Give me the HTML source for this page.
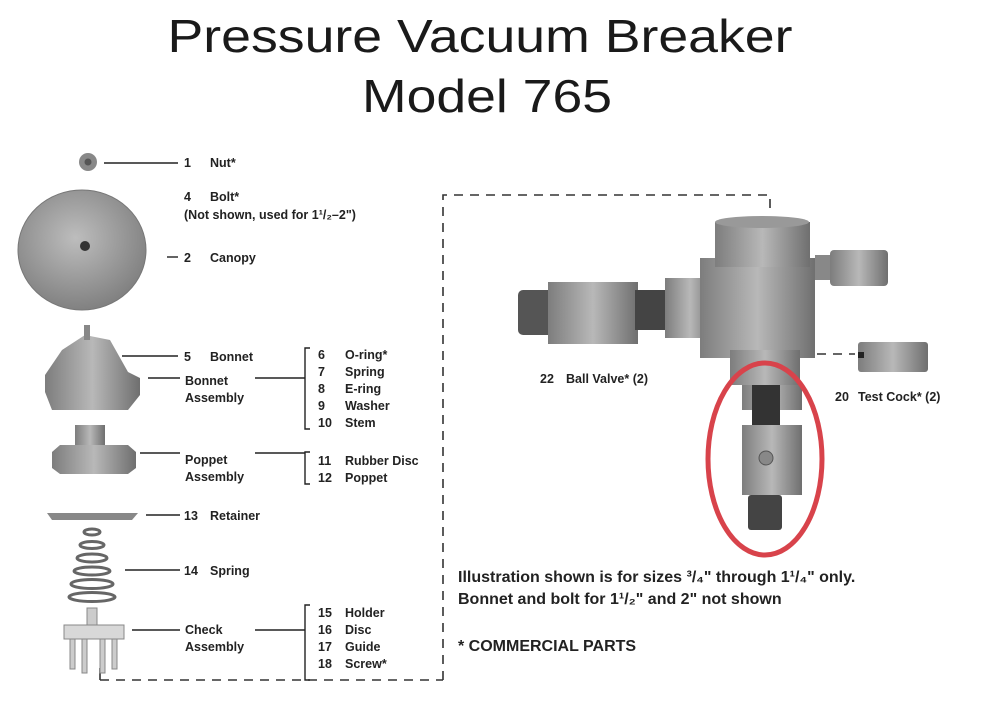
<!DOCTYPE html>
<html><head><meta charset="utf-8"><style>
html,body{margin:0;padding:0;background:#fff;}
svg{display:block;}
.l{font-family:"Liberation Sans",Arial,sans-serif;font-weight:bold;font-size:12.5px;fill:#222;}
.b{font-family:"Liberation Sans",Arial,sans-serif;font-weight:bold;font-size:16px;fill:#222;}
.t{font-family:"Liberation Sans",sans-serif;font-size:46px;fill:#1a1a1a;font-weight:normal;}
</style></head><body>
<svg width="1000" height="705" viewBox="0 0 1000 705" xmlns="http://www.w3.org/2000/svg">
<defs>
<linearGradient id="m" x1="0" x2="1"><stop offset="0" stop-color="#7d7d7d"/><stop offset=".5" stop-color="#b8b8b8"/><stop offset="1" stop-color="#6f6f6f"/></linearGradient>
<radialGradient id="c" cx=".45" cy=".4" r=".65"><stop offset="0" stop-color="#bdbdbd"/><stop offset="1" stop-color="#7c7c7c"/></radialGradient>
</defs>
<text class="t" x="480" y="52" text-anchor="middle" textLength="625" lengthAdjust="spacingAndGlyphs">Pressure Vacuum Breaker</text>
<text class="t" x="487" y="112" text-anchor="middle" textLength="250" lengthAdjust="spacingAndGlyphs">Model 765</text>

<g stroke="#333" stroke-width="1.6" stroke-dasharray="9,7" fill="none">
<path d="M443 680 V195 H770 V212"/>
<path d="M100 680 H443"/>
<path d="M817 354 H855"/>
</g>
<line x1="100" y1="668" x2="100" y2="680" stroke="#333" stroke-width="1.6"/>

<circle cx="88" cy="162" r="9" fill="#888"/><circle cx="88" cy="162" r="3.5" fill="#555"/>
<ellipse cx="82" cy="250" rx="64" ry="60" fill="url(#c)" stroke="#777"/>
<circle cx="85" cy="246" r="5" fill="#333"/>
<path d="M45 392 L45 375 L62 350 L85 335 L110 340 L128 372 L140 378 L140 395 L128 410 L52 410 Z" fill="url(#m)"/>
<rect x="84" y="325" width="6" height="15" fill="#888"/>
<rect x="75" y="425" width="30" height="25" fill="url(#m)"/>
<path d="M52 452 L60 445 L128 445 L136 452 L136 468 L128 474 L60 474 L52 468Z" fill="url(#m)"/>
<path d="M47 513 L138 513 L132 520 L52 520Z" fill="#888"/>
<g fill="none" stroke="#666" stroke-width="3">
<ellipse cx="92" cy="532" rx="8" ry="3"/><ellipse cx="92" cy="545" rx="12" ry="3.5"/><ellipse cx="92" cy="558" rx="15" ry="4"/><ellipse cx="92" cy="571" rx="18" ry="4"/><ellipse cx="92" cy="584" rx="21" ry="4.5"/><ellipse cx="92" cy="597" rx="23" ry="4.5"/></g>
<rect x="87" y="608" width="10" height="18" fill="#ccc" stroke="#888"/>
<rect x="64" y="625" width="60" height="14" fill="#d8d8d8" stroke="#888"/>
<g fill="#ccc" stroke="#888"><rect x="70" y="639" width="5" height="30"/><rect x="82" y="639" width="5" height="34"/><rect x="100" y="639" width="5" height="34"/><rect x="112" y="639" width="5" height="30"/></g>

<g stroke="#222" stroke-width="1.4">
<line x1="104" y1="163" x2="178" y2="163"/>
<line x1="167" y1="257" x2="178" y2="257"/>
<line x1="122" y1="356" x2="178" y2="356"/>
<line x1="148" y1="378" x2="180" y2="378"/>
<line x1="255" y1="378" x2="305" y2="378"/>
<line x1="140" y1="453" x2="180" y2="453"/>
<line x1="255" y1="453" x2="305" y2="453"/>
<line x1="146" y1="515" x2="180" y2="515"/>
<line x1="125" y1="570" x2="180" y2="570"/>
<line x1="132" y1="630" x2="180" y2="630"/>
<line x1="255" y1="630" x2="305" y2="630"/>
<path d="M310 348 H305 V429 H310" fill="none"/>
<path d="M310 452 H305 V484 H310" fill="none"/>
<path d="M310 605 H305 V680 H310" fill="none"/>
</g>

<g class="l">
<text x="184" y="167">1</text><text x="210" y="167">Nut*</text>
<text x="184" y="201">4</text><text x="210" y="201">Bolt*</text>
<text x="184" y="219">(Not shown, used for 1¹/₂–2")</text>
<text x="184" y="262">2</text><text x="210" y="262">Canopy</text>
<text x="184" y="361">5</text><text x="210" y="361">Bonnet</text>
<text x="185" y="385">Bonnet</text><text x="185" y="402">Assembly</text>
<text x="318" y="359">6</text><text x="345" y="359">O-ring*</text>
<text x="318" y="376">7</text><text x="345" y="376">Spring</text>
<text x="318" y="393">8</text><text x="345" y="393">E-ring</text>
<text x="318" y="410">9</text><text x="345" y="410">Washer</text>
<text x="318" y="427">10</text><text x="345" y="427">Stem</text>
<text x="185" y="464">Poppet</text><text x="185" y="481">Assembly</text>
<text x="318" y="465">11</text><text x="345" y="465">Rubber Disc</text>
<text x="318" y="482">12</text><text x="345" y="482">Poppet</text>
<text x="184" y="520">13</text><text x="210" y="520">Retainer</text>
<text x="184" y="575">14</text><text x="210" y="575">Spring</text>
<text x="185" y="634">Check</text><text x="185" y="651">Assembly</text>
<text x="318" y="617">15</text><text x="345" y="617">Holder</text>
<text x="318" y="634">16</text><text x="345" y="634">Disc</text>
<text x="318" y="651">17</text><text x="345" y="651">Guide</text>
<text x="318" y="668">18</text><text x="345" y="668">Screw*</text>
<text x="540" y="383">22</text><text x="566" y="383">Ball Valve* (2)</text>
<text x="835" y="401">20</text><text x="858" y="401">Test Cock* (2)</text>
</g>

<rect x="518" y="290" width="40" height="45" rx="5" fill="#555"/>
<rect x="548" y="282" width="90" height="62" fill="url(#m)"/>
<rect x="635" y="290" width="30" height="40" fill="#444"/>
<rect x="665" y="278" width="50" height="60" fill="url(#m)"/>
<rect x="700" y="258" width="115" height="100" fill="url(#m)"/>
<rect x="715" y="222" width="95" height="45" fill="url(#m)"/>
<ellipse cx="762" cy="222" rx="47" ry="6" fill="#999"/>
<rect x="730" y="350" width="70" height="35" fill="url(#m)"/>
<rect x="815" y="255" width="15" height="25" fill="#888"/>
<rect x="830" y="250" width="58" height="36" rx="4" fill="url(#m)"/>
<rect x="858" y="342" width="70" height="30" rx="3" fill="url(#m)"/>
<rect x="858" y="352" width="6" height="6" fill="#222"/>
<rect x="742" y="385" width="60" height="25" fill="url(#m)"/>
<rect x="752" y="385" width="28" height="42" fill="#333"/>
<rect x="742" y="425" width="60" height="70" fill="url(#m)"/>
<circle cx="766" cy="458" r="7" fill="#888" stroke="#555"/>
<rect x="748" y="495" width="34" height="35" rx="3" fill="#444"/>
<ellipse cx="765" cy="459" rx="57" ry="96" fill="none" stroke="#d8434b" stroke-width="5"/>

<g class="b">
<text x="458" y="582">Illustration shown is for sizes ³/₄" through 1¹/₄" only.</text>
<text x="458" y="604">Bonnet and bolt for 1¹/₂" and 2" not shown</text>
<text x="458" y="651">* COMMERCIAL PARTS</text>
</g>
</svg>
</body></html>
